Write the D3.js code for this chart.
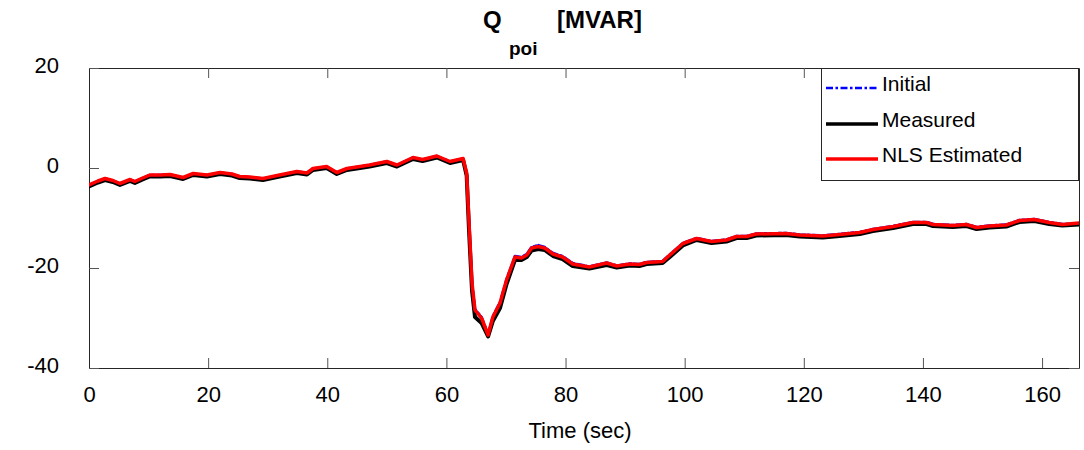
<!DOCTYPE html>
<html>

<head>
  <meta charset="utf-8">
  <title>Q poi [MVAR]</title>
  <style>
  body {
    margin: 0px;
    background: #fff;
  }
  text {
    font-family: "Liberation Sans", Arial, Helvetica, sans-serif;
    fill: #000;
  }
  .trace {
    fill: none;
    stroke-linejoin: round;
    stroke-linecap: round;
  }
  </style>
</head>

<body>
  <svg width="1084" height="450"></svg>
  <script src="https://d3js.org/d3.v7.min.js"></script>
  <script>
  // time axis (sec)
  var time = [0, 1.5, 2.7, 4, 5.2, 6.9, 7.7, 9, 10.2, 12,
    13.6, 15.8, 17.5, 19.8, 22, 24, 25.3, 27, 29.2, 32,
    34.9, 36.6, 37.6, 39.9, 41.6, 43.3, 45.5, 47.1, 50, 51.7,
    54.4, 56, 58.4, 60.6, 62.8, 63.4, 63.8, 64.3, 64.8, 65.9,
    67, 67.8, 69, 70.1, 71.5, 72.6, 73.5, 74.3, 75.4, 76.5,
    77.9, 79.5, 81.2, 84, 86.9, 88.6, 90.8, 92.4, 93.6, 96.3,
    97.5, 99.7, 102, 104.5, 107, 108.7, 110.4, 112, 117, 119.3,
    123.2, 126, 129.4, 131.6, 135, 138.3, 140.6, 141.7, 145, 147.3,
    149, 151.2, 154, 156.2, 158.7, 161.2, 163.4, 166.3];

  var initial = [-3.4, -2.6, -2.1, -2.5, -3.1, -2.3, -2.7, -2.0, -1.4, -1.4,
    -1.3, -1.9, -1.1, -1.4, -0.9, -1.2, -1.7, -1.8, -2.1, -1.4,
    -0.7, -1.0, -0.1, 0.3, -0.9, -0.1, 0.3, 0.6, 1.3, 0.6,
    2.1, 1.7, 2.4, 1.3, 1.9, -1.0, -11, -23, -28.2, -29.8,
    -33.2, -29.6, -26.8, -22.2, -17.6, -17.8, -17.2, -15.8, -15.4, -15.8,
    -17.0, -17.6, -19.0, -19.7, -18.9, -19.5, -19.1, -19.2, -18.8, -18.6,
    -17.3, -15.0, -14.0, -14.6, -14.3, -13.6, -13.6, -13.1, -13.0, -13.3,
    -13.5, -13.2, -12.8, -12.2, -11.6, -10.8, -10.8, -11.2, -11.4, -11.2,
    -11.8, -11.5, -11.3, -10.4, -10.2, -10.8, -11.2, -11.1];

  var measured = [-3.7, -2.9, -2.4, -2.8, -3.4, -2.6, -3.0, -2.3, -1.7, -1.7,
    -1.6, -2.2, -1.4, -1.7, -1.2, -1.5, -2.0, -2.1, -2.4, -1.7,
    -1.0, -1.3, -0.4, 0.0, -1.2, -0.4, 0.0, 0.3, 1.0, 0.3,
    1.8, 1.4, 2.1, 1.0, 1.6, -1.5, -12.5, -24.5, -29.8, -31.0,
    -33.7, -30.6, -28.0, -23.2, -18.4, -18.4, -17.8, -16.5, -16.2, -16.4,
    -17.6, -18.2, -19.6, -20.1, -19.4, -19.9, -19.5, -19.6, -19.2, -19.0,
    -17.8, -15.5, -14.4, -15.0, -14.7, -14.0, -14.0, -13.5, -13.4, -13.7,
    -13.9, -13.6, -13.2, -12.6, -12.0, -11.2, -11.2, -11.6, -11.8, -11.6,
    -12.2, -11.9, -11.7, -10.8, -10.6, -11.2, -11.5, -11.3];

  var estimated = [-3.4, -2.6, -2.1, -2.5, -3.1, -2.3, -2.7, -2.0, -1.4, -1.4,
    -1.3, -1.9, -1.1, -1.4, -0.9, -1.2, -1.7, -1.8, -2.1, -1.4,
    -0.7, -1.0, -0.1, 0.3, -0.9, -0.1, 0.3, 0.6, 1.3, 0.6,
    2.1, 1.7, 2.4, 1.3, 1.9, -1.0, -11, -23, -28.4, -30,
    -33.4, -29.8, -27, -22.4, -17.8, -18, -17.4, -16, -15.7, -16,
    -17.2, -17.8, -19.2, -19.8, -19, -19.6, -19.2, -19.3, -18.9, -18.7,
    -17.4, -15.1, -14.1, -14.7, -14.4, -13.7, -13.7, -13.2, -13.1, -13.4,
    -13.6, -13.3, -12.9, -12.3, -11.7, -10.9, -10.9, -11.3, -11.5, -11.3,
    -11.9, -11.6, -11.4, -10.5, -10.3, -10.9, -11.3, -11.0];

  var xTicks = [0, 20, 40, 60, 80, 100, 120, 140, 160];
  var yTicks = [-40, -20, 0, 20];
  var legendNames = ["Initial", "Measured", "NLS Estimated"];

  function draw() {
    var svg = d3.select("svg");
    // plot box in pixels (note: "top" would clash with window.top)
    var pLeft = 89, pRight = 1079, pTop = 68, pBottom = 368;
    var tickLen = 10;
    var axisColor = "#262626";
    // plain hyphen for negatives, like the original
    var plain = function(d) { return String(d); };

    var x = d3.scaleLinear().domain([0, 166.2]).range([pLeft, pRight]);
    var y = d3.scaleLinear().domain([-40, 20]).range([pBottom, pTop]);

    svg.append("clipPath").attr("id", "plotclip")
      .append("rect")
      .attr("x", pLeft).attr("y", pTop)
      .attr("width", pRight - pLeft).attr("height", pBottom - pTop);

    function styleAxis(g) {
      g.select(".domain").attr("stroke", axisColor);
      g.selectAll(".tick line").attr("stroke", "#555");
      g.selectAll(".tick text").attr("font-size", "22px").attr("fill", axisColor)
        .attr("font-family", "Liberation Sans, Arial, sans-serif");
    }

    // axes: bottom/left with labels, top/right ticks only (box on)
    svg.append("g")
      .attr("transform", "translate(0," + pBottom + ")")
      .call(d3.axisBottom(x).tickValues(xTicks).tickFormat(plain).tickSizeInner(-tickLen).tickSizeOuter(0).tickPadding(18))
      .call(styleAxis);

    svg.append("g")
      .attr("transform", "translate(0," + pTop + ")")
      .call(d3.axisTop(x).tickValues(xTicks).tickSizeInner(-tickLen).tickSizeOuter(0).tickFormat(""))
      .call(styleAxis);

    svg.append("g")
      .attr("transform", "translate(" + pLeft + ",0)")
      .call(d3.axisLeft(y).tickValues(yTicks).tickFormat(plain).tickSizeInner(-tickLen).tickSizeOuter(0).tickPadding(30))
      .call(styleAxis)
      .call(function(g) { g.selectAll(".tick text").attr("dy", "0.2em"); });

    svg.append("g")
      .attr("transform", "translate(" + pRight + ",0)")
      .call(d3.axisRight(y).tickValues(yTicks).tickSizeInner(-tickLen).tickSizeOuter(0).tickFormat(""))
      .call(styleAxis);

    // traces
    function series(values) {
      return time.map(function(t, i) { return [t, values[i]]; });
    }
    var line = d3.line()
      .x(function(d) { return x(d[0]); })
      .y(function(d) { return y(d[1]); });

    var plot = svg.append("g").attr("clip-path", "url(#plotclip)");

    plot.append("path").attr("class", "trace")
      .attr("d", line(series(measured)))
      .attr("stroke", "#000").attr("stroke-width", 4);

    plot.append("path").attr("class", "trace")
      .attr("d", line(series(initial)))
      .attr("stroke", "#0000ff").attr("stroke-width", 2.5)
      .attr("stroke-dasharray", "7,2.5,2.5,2.5");

    plot.append("path").attr("class", "trace")
      .attr("d", line(series(estimated)))
      .attr("stroke", "#ff0000").attr("stroke-width", 3.5);

    // title: Q_{poi} [MVAR]
    var title = svg.append("g").attr("font-weight", "bold");
    title.append("text").attr("x", 483).attr("y", 28).attr("font-size", "24px").text("Q");
    title.append("text").attr("x", 509).attr("y", 55).attr("font-size", "19px").text("poi");
    title.append("text").attr("x", 557).attr("y", 28).attr("font-size", "24px").text("[MVAR]");

    // x label
    svg.append("text")
      .attr("x", 580).attr("y", 438)
      .attr("text-anchor", "middle")
      .attr("font-size", "22px")
      .attr("fill", axisColor)
      .text("Time (sec)");

    // legend
    var legend = svg.append("g");
    legend.append("rect")
      .attr("x", 821.5).attr("y", 68.5)
      .attr("width", 257).attr("height", 112)
      .attr("fill", "#fff").attr("stroke", axisColor);

    var legendStyles = [
      { color: "#0000ff", width: 2.5, dash: "7,2.5,2.5,2.5" },
      { color: "#000", width: 3.5, dash: null },
      { color: "#ff0000", width: 3.5, dash: null }
    ];
    var rowY = [88, 124, 159];

    legendNames.forEach(function(name, i) {
      legend.append("line")
        .attr("x1", 826).attr("x2", 878)
        .attr("y1", rowY[i]).attr("y2", rowY[i])
        .attr("stroke", legendStyles[i].color)
        .attr("stroke-width", legendStyles[i].width)
        .attr("stroke-dasharray", legendStyles[i].dash);
      legend.append("text")
        .attr("x", 882).attr("y", rowY[i] + 3)
        .attr("font-size", "21px")
        .text(name);
    });
  }

  draw();
  </script>
</body>

</html>
